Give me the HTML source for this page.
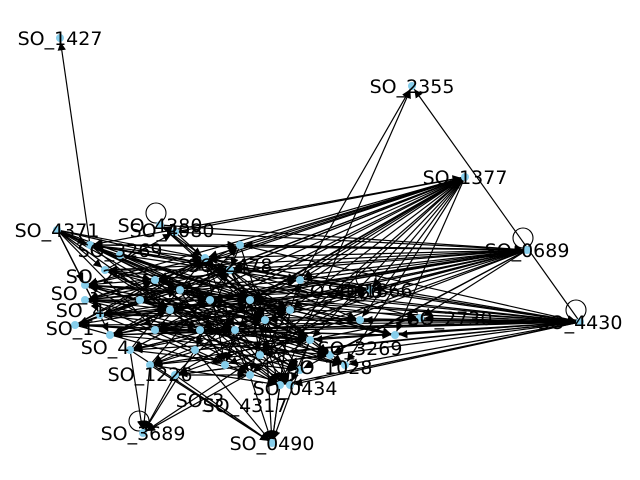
<!DOCTYPE html>
<html><head><meta charset="utf-8"><style>
html,body{margin:0;padding:0;background:#fff;}
svg{display:block;}
text{font-family:"DejaVu Sans","Liberation Sans",sans-serif;font-size:19px;fill:#000;}
</style></head><body>
<svg id="g" width="640" height="480" xmlns="http://www.w3.org/2000/svg">
<defs><marker id="ah" viewBox="0 0 10 10" refX="10" refY="5" markerWidth="7" markerHeight="7" orient="auto"><path d="M0,0L10,5L0,10z" fill="#000"/></marker></defs>
<g id="edges"></g>
<g id="nodes"></g>
<g id="labels"></g>
</svg>
<script>
const nodeNames=["","","","","","","","","","","","","","","","","","","","","","","","","","","","","","","","","","","","","","","","","","SO_1427","SO_2355","SO_1377","SO_0689","SO_4430","SO_4371","SO_3689","SO_0490","SO_4380"];
const nodeX=[90,105,85,85,100,75,110,155,130,150,175,205,230,250,210,180,155,170,200,235,265,290,310,330,345,300,280,250,225,290,370,395,420,360,240,175,300,260,195,140,120,60,412,465,527,580,57,143,272,160];
const nodeY=[245,270,285,300,315,325,335,330,350,365,375,258,270,300,300,290,280,310,330,330,320,310,340,355,365,370,385,375,365,385,290,335,318,320,245,232,280,355,350,300,255,38,86,177,250,322,230,433,443,225];
const adjacency=[
"43:0,3,7,11,13,16,19,21,22,24,27,30,31,33,36,12,15,18,9,5,2,4,6,8",
"44:0,2,4,6,12,14,17,20,23,25,28,30,32,34,36,10,8,1,11,3,5,7,9",
"45:1,3,5,8,11,13,18,22,24,26,29,31,32,33,37,20,16,7,2,0,4,6,9,10",
"46:0,1,2,4,6,7,11,13,17,19,20,15,12,14",
"0:11,13,20,22,30,34,12,41,15,17",
"1:14,18,21,25,35,12,16,19",
"2:15,19,23,26,13,11,17,20",
"3:16,20,24,27,12,36,14,21",
"4:17,21,28,12,34,13,15,22",
"5:18,22,29,15,11,16",
"6:19,23,30,14,12,17",
"7:20,24,31,13,34,21,25",
"8:21,25,47,48,11,19",
"9:22,26,47,48,12,20",
"10:23,27,48,47,13,21",
"11:24,28,33,36,22,19,20",
"12:25,29,32,20,38,21,23",
"13:26,30,23,37,28,31",
"14:27,31,22,25,29",
"15:28,32,24,21,19",
"16:29,33,23,26,20",
"17:30,36,27,25,22",
"18:31,22,26,29,24",
"19:32,24,28,48,26",
"20:33,25,29,48,27",
"21:36,26,37,48,31",
"22:48,29,47,32",
"34:43,44,45,12,20",
"35:49,44,43,13",
"39:2,11,20,30,22",
"40:13,22,31,45,21",
"38:47,48,22",
"37:47,43,30",
"26:42,48",
"49:11,13,20,44",
"45:42",
"36:42"
];
const selfLoops=[44,45,47,49,30];
const eg=document.getElementById('edges'),ng=document.getElementById('nodes'),lg=document.getElementById('labels');
const NS='http://www.w3.org/2000/svg';
function px(i){return nodeX[i];}
function py(i){return nodeY[i];}
adjacency.forEach(function(s){
  const p=s.split(':');const a=+p[0];
  p[1].split(',').forEach(function(t){
    const b=+t;
    const dx=px(b)-px(a),dy=py(b)-py(a),d=Math.hypot(dx,dy)||1;
    const l=document.createElementNS(NS,'line');
    l.setAttribute('x1',px(a));l.setAttribute('y1',py(a));
    l.setAttribute('x2',px(b)-dx/d*4);l.setAttribute('y2',py(b)-dy/d*4);
    l.setAttribute('stroke','#000');l.setAttribute('stroke-width','1.2');
    l.setAttribute('marker-end','url(#ah)');
    
    
    eg.appendChild(l);
  });
});
selfLoops.forEach(function(i){
  const c=document.createElementNS(NS,'circle');
  c.setAttribute('cx',px(i)-4);c.setAttribute('cy',py(i)-12);c.setAttribute('r',10);
  c.setAttribute('fill','none');c.setAttribute('stroke','#000');c.setAttribute('stroke-width','1.1');
  
  
  eg.appendChild(c);
});
nodeX.forEach(function(x,i){
  const c=document.createElementNS(NS,'circle');
  c.setAttribute('cx',x);c.setAttribute('cy',nodeY[i]);c.setAttribute('r',4);
  c.setAttribute('fill','#87ceeb');
  
  
  ng.appendChild(c);
  if(nodeNames[i]){
    const t=document.createElementNS(NS,'text');
    t.setAttribute('x',x);t.setAttribute('y',nodeY[i]+7);t.setAttribute('text-anchor','middle');
    t.textContent=nodeNames[i];
    
    
    lg.appendChild(t);
  }
});
const extraLabels=["SO_4080","SO_3269","SO_2478","SO_2","SO_3","SO_4","SO_1","SO_4","SO_1226","SO_4317","SO_0434","SO_1028","SO_3269","SO_4086","SO_2730","SO_1866","SO_3"];
const extraX=[172,120,230,90,75,80,70,105,150,245,295,330,360,340,450,370,200];
const extraY=[230,250,265,276,293,310,328,347,374,405,388,367,348,291,318,290,400];
extraLabels.forEach(function(s,i){
  const t=document.createElementNS(NS,'text');
  t.setAttribute('x',extraX[i]);t.setAttribute('y',extraY[i]+7);t.setAttribute('text-anchor','middle');
  t.textContent=s;
  
  
  lg.appendChild(t);
});
</script>
</body></html>
